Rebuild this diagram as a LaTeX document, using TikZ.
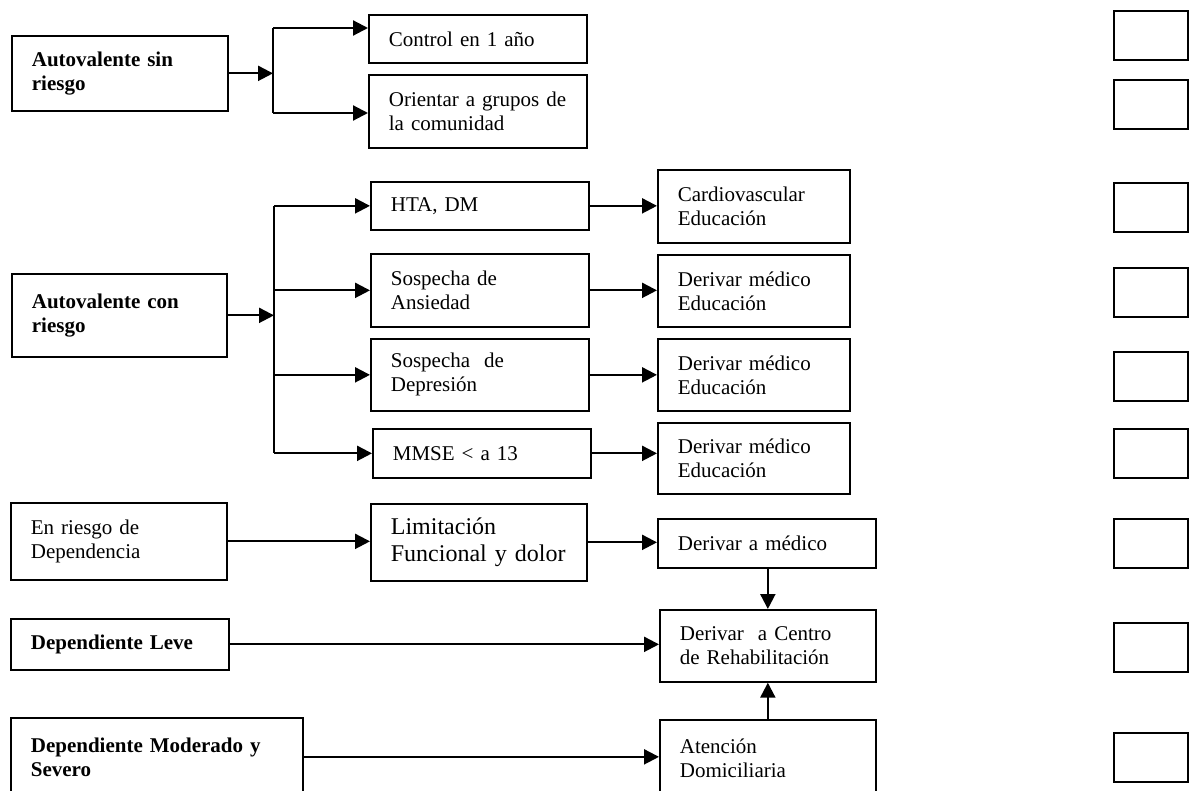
\documentclass[tikz,border=0pt]{standalone}
\usepackage{fontspec}
\setmainfont{Liberation Serif}
\usetikzlibrary{arrows.meta}
\begin{document}
\begin{tikzpicture}[x=1bp,y=-1bp,
  box/.style={draw, line width=1.7bp, anchor=north west, inner xsep=20bp, inner ysep=1bp,
    align=left, font=\fontsize{21bp}{24bp}\selectfont},
  bbox/.style={box, font=\fontsize{21bp}{24bp}\selectfont\bfseries},
  lbox/.style={box, font=\fontsize{24bp}{27bp}\selectfont},
  sq/.style={draw, line width=2.2bp, anchor=north west, minimum width=74bp, minimum height=49bp, inner sep=0pt},
  ln/.style={line width=2.2bp},
  arr/.style={line width=2.2bp, -{Triangle[length=15bp,width=15bp]}}]
\useasboundingbox (0,0) rectangle (1192,791);
\clip (0,0) rectangle (1192,791);

% left column
\node[bbox, text width=176bp, minimum height=75bp] (L1) at (11,35) {Autovalente sin\\riesgo};
\node[bbox, text width=175bp, minimum height=83bp] (L2) at (11,273) {Autovalente con\\riesgo};
\node[box, text width=176bp, minimum height=77bp] (L3) at (10,502) {En riesgo de\\Dependencia};
\node[bbox, text width=178bp, minimum height=51bp] (L4) at (10,618) {Dependiente Leve};
\node[bbox, text width=252bp, minimum height=78bp] (L5) at (10,717) {Dependiente Moderado y\\Severo};

% second column
\node[box, text width=178bp, minimum height=48bp] (ctrl) at (368,14) {Control en 1 año};
\node[box, text width=178bp, minimum height=73bp] (ori) at (368,74) {Orientar a grupos de\\la comunidad};
\node[box, text width=178bp, minimum height=48bp] (hta) at (370,181) {HTA, DM};
\node[box, text width=178bp, minimum height=73bp] (ans) at (370,253) {Sospecha de\\Ansiedad};
\node[box, text width=178bp, minimum height=72bp] (dep) at (370,338) {Sospecha\ \ de\\Depresión};
\node[box, text width=178bp, minimum height=49bp] (mmse) at (372,428) {MMSE < a 13};
\node[lbox, text width=176bp, minimum height=77bp] (lim) at (370,503) {Limitación\\Funcional y dolor};

% third column
\node[box, text width=152bp, minimum height=73bp] (card) at (657,169) {Cardiovascular\\Educación};
\node[box, text width=152bp, minimum height=72bp] (dm1) at (657,254) {Derivar médico\\Educación};
\node[box, text width=152bp, minimum height=72bp] (dm2) at (657,338) {Derivar médico\\Educación};
\node[box, text width=152bp, minimum height=71bp] (dm3) at (657,422) {Derivar médico\\Educación};
\node[box, text width=178bp, minimum height=49bp] (dam) at (657,518) {Derivar a médico};
\node[box, text width=176bp, minimum height=72bp] (cen) at (659,609) {Derivar\ \ a Centro\\de Rehabilitación};
\node[box, text width=176bp, minimum height=76bp] (ate) at (659,719) {Atención\\Domiciliaria};

% right squares
\node[sq] (s1) at (1113,10) {};
\node[sq] (s2) at (1113,79) {};
\node[sq] (s3) at (1113,182) {};
\node[sq] (s4) at (1113,267) {};
\node[sq] (s5) at (1113,351) {};
\node[sq] (s6) at (1113,428) {};
\node[sq] (s7) at (1113,518) {};
\node[sq] (s8) at (1113,622) {};
\node[sq] (s9) at (1113,732) {};

% branch 1
\coordinate (b1t) at (273,28);
\coordinate (b1b) at (273,113);
\draw[arr] (L1.east) -- (L1.east -| b1t);
\draw[ln] (b1t) -- (b1b);
\draw[arr] (b1t) -- (b1t -| ctrl.west);
\draw[arr] (b1b) -- (b1b -| ori.west);

% branch 2
\coordinate (b2x) at (274,0);
\draw[arr] (L2.east) -- (L2.east -| b2x);
\draw[ln] (hta.west -| b2x) -- (mmse.west -| b2x);
\draw[arr] (hta.west -| b2x) -- (hta.west);
\draw[arr] (ans.west -| b2x) -- (ans.west);
\draw[arr] (dep.west -| b2x) -- (dep.west);
\draw[arr] (mmse.west -| b2x) -- (mmse.west);

% column 2 to column 3
\draw[arr] (hta.east) -- (hta.east -| card.west);
\draw[arr] (ans.east) -- (ans.east -| dm1.west);
\draw[arr] (dep.east) -- (dep.east -| dm2.west);
\draw[arr] (mmse.east) -- (mmse.east -| dm3.west);

% dependency rows
\draw[arr] (L3.east) -- (L3.east -| lim.west);
\draw[arr] (lim.east) -- (lim.east -| dam.west);
\draw[arr] (cen.north |- dam.south) -- (cen.north);
\draw[arr] (L4.east) -- (L4.east -| cen.west);
\draw[arr] (L5.east) -- (L5.east -| ate.west);
\draw[arr] (ate.north) -- (cen.south);
\end{tikzpicture}
\end{document}
